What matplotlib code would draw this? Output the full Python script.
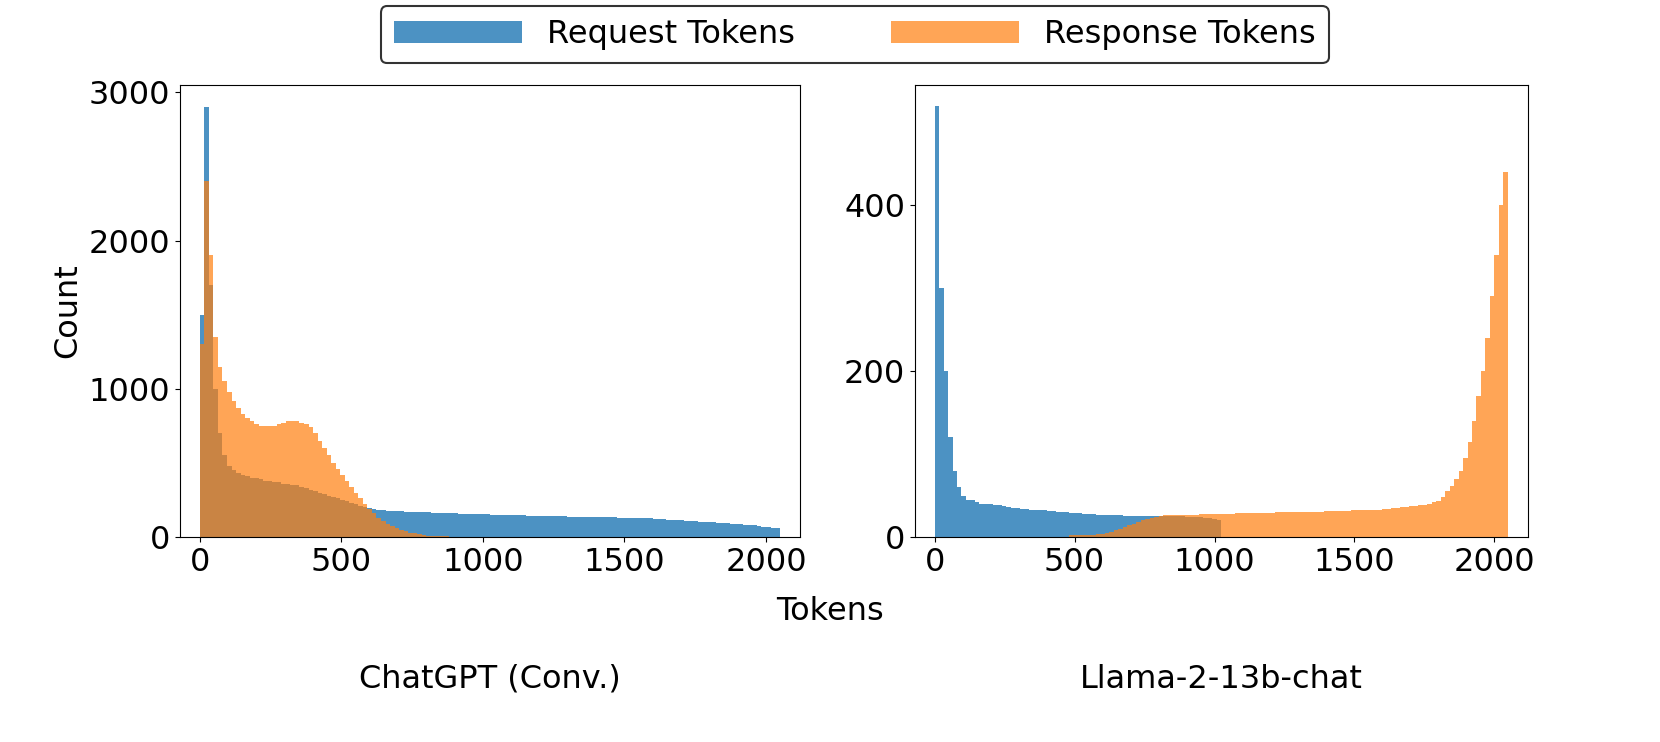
import numpy as np
import matplotlib
matplotlib.use("Agg")
import matplotlib.pyplot as plt

# bin width 16 tokens, 128 bins (0..2048)
bin_width = 16
n_bins = 128

chatgpt_req = [1500, 2900, 1700, 1000, 700, 550, 480, 450, 430, 420,
               410, 400, 400, 390, 380, 380, 370, 370, 360, 360,
               350, 350, 340, 330, 320, 310, 300, 290, 280, 270,
               260, 250, 240, 230, 220, 210, 200, 195, 190, 185,
               180, 178, 176, 175, 174, 172, 171, 170, 168, 167,
               166, 165, 164, 163, 162, 160, 159, 158, 157, 156,
               155, 154, 153, 152, 151, 150, 150, 149, 148, 147,
               146, 146, 145, 144, 143, 142, 142, 141, 140, 140,
               139, 138, 138, 137, 136, 136, 135, 134, 134, 133,
               132, 132, 131, 130, 130,
               129, 128, 127, 126, 125, 124, 122, 120, 118, 116,
               114, 112, 110, 108, 106, 104, 102, 100, 98, 96,
               94, 92, 90, 88, 86, 84, 82, 78, 74, 70,
               66, 62, 58]
chatgpt_resp = [1300, 2400, 1900, 1350, 1150, 1050, 980, 920, 870, 830,
                800, 780, 760, 750, 750, 750, 750, 760, 770, 780,
                780, 780, 770, 760, 740, 700, 650, 600, 550, 500,
                460, 420, 380, 340, 300, 260, 220, 190, 160, 130,
                110, 90, 75, 60, 50, 40, 30, 25, 20, 15,
                10, 8, 6, 5, 4, 3, 2, 2, 1, 1] + [0] * 68

llama_req = [520, 300, 200, 120, 80, 60, 50, 45, 45, 42,
             40, 40, 40, 38, 38, 37, 36, 35, 35, 34,
             34, 33, 33, 32, 32, 31, 31, 30, 30, 30,
             29, 29, 29, 28, 28, 28, 27, 27, 27, 26,
             26, 26, 25, 25, 25, 25, 25, 25, 25, 25,
             25, 25, 25, 25, 25, 25, 24, 24, 24, 24,
             23, 23, 22, 20] + [0] * 64
llama_resp = [0] * 30 + [1, 1, 1, 1, 2, 2, 2, 2, 3, 3,
                         3, 4, 4, 5, 6, 8, 10, 12, 14, 16,
                         18, 20, 22, 23, 24, 25, 26, 26, 27, 27,
                         27, 27, 27, 27, 28, 28, 28, 28, 28, 28,
                         28, 28, 29, 29, 29, 29, 29, 29, 29, 29,
                         29, 30, 30, 30, 30, 30, 30, 30, 30, 30,
                         30, 30, 31, 31, 31, 31, 31, 31, 32, 32,
                         32, 32, 33, 33, 33, 34, 34, 35, 35, 36,
                         36, 37, 37, 38, 39, 40, 42, 44, 48, 55,
                         62, 70, 80, 95, 115, 140, 170, 200, 240, 290,
                         340, 400, 440][-98:]

edges = np.arange(n_bins) * bin_width
blue = "#1f77b4"
orange = "#ff7f0e"

fig = plt.figure(figsize=(16.6, 7.42), dpi=100)
ax1 = fig.add_axes([180 / 1660, 1 - 537 / 742, 620 / 1660, 452 / 742])
ax2 = fig.add_axes([915 / 1660, 1 - 537 / 742, 613 / 1660, 452 / 742])

for ax, req, resp, title, ymax in [(ax1, chatgpt_req, chatgpt_resp, "ChatGPT (Conv.)", 3050),
                                   (ax2, llama_req, llama_resp, "Llama-2-13b-chat", 545)]:
    ax.bar(edges, req, width=bin_width, align="edge", color=blue, alpha=0.8,
           linewidth=0, label="Request Tokens")
    ax.bar(edges, resp, width=bin_width, align="edge", color=orange, alpha=0.7,
           linewidth=0, label="Response Tokens")
    ax.set_xlim(-70, 2120)
    ax.set_ylim(0, ymax)
    ax.set_xticks([0, 500, 1000, 1500, 2000])
    ax.tick_params(labelsize=23)
    ax.set_xlabel(title, fontsize=23, labelpad=62)

ax1.set_yticks([0, 1000, 2000, 3000])
ax2.set_yticks([0, 200, 400])
ax1.set_ylabel("Count", fontsize=23)
fig.text(0.5, 1 - 612 / 742, "Tokens", fontsize=23, ha="center", va="center")

handles, labels = ax1.get_legend_handles_labels()
leg = fig.legend(handles, labels, loc="upper center", ncol=2, fontsize=23,
                 bbox_to_anchor=(0.515, 1.0), frameon=True, edgecolor="black",
                 handlelength=4, columnspacing=3, borderaxespad=0.2)
leg.get_frame().set_linewidth(1.5)

fig.savefig("out.png", dpi=100)
